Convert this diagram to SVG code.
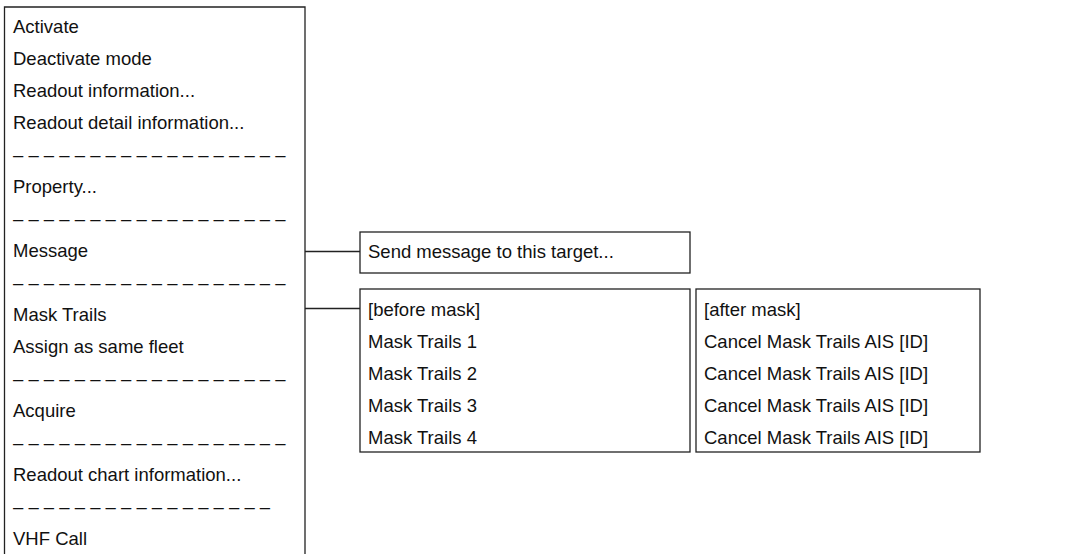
<svg xmlns="http://www.w3.org/2000/svg" width="1088" height="554" viewBox="0 0 1088 554">
<style>
.box{fill:#fff;stroke:#222;stroke-width:1.3}
.t{font-family:"Liberation Sans",Arial,sans-serif;font-size:18.5px;fill:#111}
.c{fill:none;stroke:#222;stroke-width:1.3}
</style>
<rect width="1088" height="554" fill="#fff"/>
<g id="menu">
<path class="box" d="M4.5,560 V7 H305 V560"/>
<text class="t" x="13" y="32.5">Activate</text>
<text class="t" x="13" y="64.5">Deactivate mode</text>
<text class="t" x="13" y="96.5">Readout information...</text>
<text class="t" x="13" y="128.5">Readout detail information...</text>
<text class="t" x="13" y="160.5">– – – – – – – – – – – – – – – – – –</text>
<text class="t" x="13" y="192.5">Property...</text>
<text class="t" x="13" y="224.5">– – – – – – – – – – – – – – – – – –</text>
<text class="t" x="13" y="256.5">Message</text>
<text class="t" x="13" y="288.5">– – – – – – – – – – – – – – – – – –</text>
<text class="t" x="13" y="320.5">Mask Trails</text>
<text class="t" x="13" y="352.5">Assign as same fleet</text>
<text class="t" x="13" y="384.5">– – – – – – – – – – – – – – – – – –</text>
<text class="t" x="13" y="416.5">Acquire</text>
<text class="t" x="13" y="448.5">– – – – – – – – – – – – – – – – – –</text>
<text class="t" x="13" y="480.5">Readout chart information...</text>
<text class="t" x="13" y="512.5">– – – – – – – – – – – – – – – – –</text>
<text class="t" x="13" y="544.5">VHF Call</text>
</g>
<g id="message-sub">
<rect class="box" x="360" y="232" width="330" height="41"/>
<text class="t" x="368" y="258">Send message to this target...</text>
</g>
<g id="before-mask">
<rect class="box" x="360" y="289" width="330" height="163"/>
<text class="t" x="368" y="315.5">[before mask]</text>
<text class="t" x="368" y="347.5">Mask Trails 1</text>
<text class="t" x="368" y="379.5">Mask Trails 2</text>
<text class="t" x="368" y="411.5">Mask Trails 3</text>
<text class="t" x="368" y="443.5">Mask Trails 4</text>
</g>
<g id="after-mask">
<rect class="box" x="696" y="289" width="284" height="163"/>
<text class="t" x="704" y="315.5">[after mask]</text>
<text class="t" x="704" y="347.5">Cancel Mask Trails AIS [ID]</text>
<text class="t" x="704" y="379.5">Cancel Mask Trails AIS [ID]</text>
<text class="t" x="704" y="411.5">Cancel Mask Trails AIS [ID]</text>
<text class="t" x="704" y="443.5">Cancel Mask Trails AIS [ID]</text>
</g>
<g id="connectors">
<line class="c" x1="305" y1="251.5" x2="360" y2="251.5"/>
<line class="c" x1="305" y1="308.5" x2="360" y2="308.5"/>
</g>
</svg>
